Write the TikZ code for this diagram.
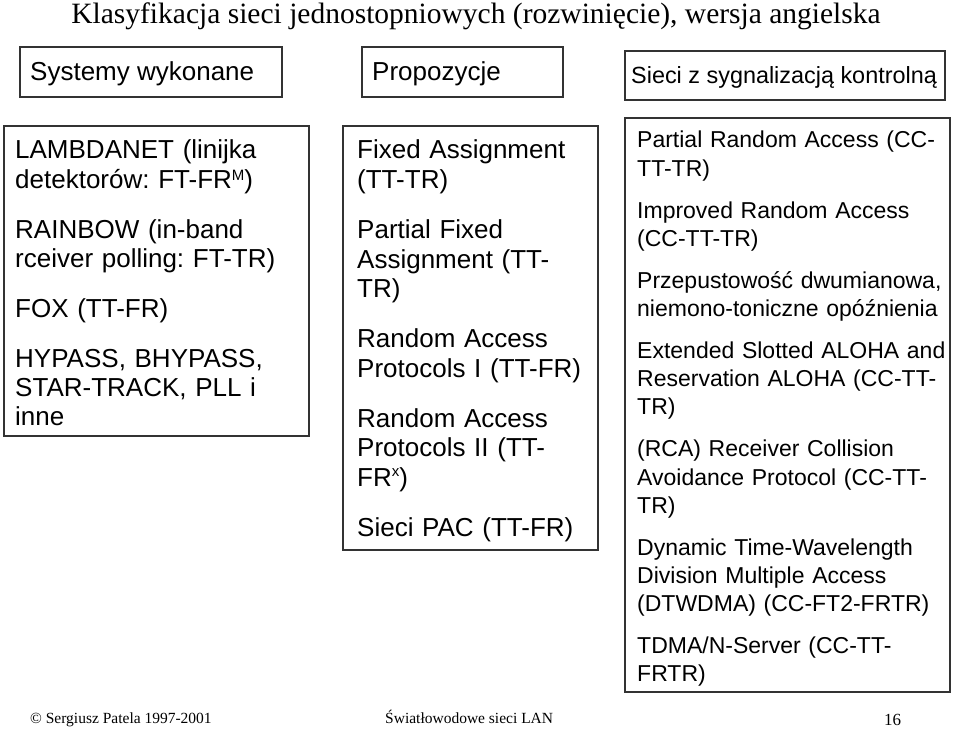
\documentclass[tikz,border=0pt]{standalone}
\usepackage{fontspec}
\setmainfont{Liberation Serif}
\setsansfont{Liberation Sans}
\newcommand{\smallsup}[2]{\raisebox{#1}{\fontsize{15}{15}\selectfont #2}}
\begin{document}
\begin{tikzpicture}[x=1pt,y=-1pt,
  box/.style={draw=black!80, line width=1.2pt},
  body/.style={anchor=base west, inner sep=0pt, text width=#1, align=left},
  head/.style={anchor=base west, inner sep=0pt, font=\sffamily\fontsize{26}{30}\selectfont},
  foot/.style={anchor=base west, inner sep=0pt, font=\fontsize{15.5}{18}\selectfont}]
\fill[white] (0,0) rectangle (960,730);
\useasboundingbox (0,0) rectangle (960,730);
% title
\node[anchor=base, inner sep=0pt, font=\fontsize{29.5}{33}\selectfont] (title) at (476,24)
  {Klasyfikacja sieci jednostopniowych (rozwinięcie), wersja angielska};
% heading boxes
\draw[box] (20,47) rectangle (282,97);
\node[head] (h1) at (30,81) {Systemy wykonane};
\draw[box] (362,47) rectangle (563,97);
\node[head] (h2) at (372,81) {Propozycje};
\draw[box] (625,51) rectangle (945,100);
\node[head, font=\sffamily\fontsize{23.4}{28}\selectfont] (h3) at (631,84) {Sieci z sygnalizacją kontrolną};
% left box
\draw[box] (4,126) rectangle (309,436);
\node[body=300pt, font=\sffamily\fontsize{26}{29}\selectfont] (t1) at (15,159) {\frenchspacing\setlength{\parskip}{21pt}%
LAMBDANET (linijka\\ detektorów: FT-FR\smallsup{7.5pt}{M})\par
RAINBOW (in-band\\ rceiver polling: FT-TR)\par
FOX (TT-FR)\par
HYPASS, BHYPASS,\\ STAR-TRACK, PLL i\\ inne};
% middle box
\draw[box] (343,126) rectangle (598,550);
\node[body=250pt, font=\sffamily\fontsize{26}{29.5}\selectfont] (t2) at (357,159) {\frenchspacing\setlength{\parskip}{20.5pt}%
Fixed Assignment\\ (TT-TR)\par
Partial Fixed\\ Assignment (TT-\\ TR)\par
Random Access\\ Protocols I (TT-FR)\par
Random Access\\ Protocols II (TT-\\ FR\smallsup{10pt}{x})\par
Sieci PAC (TT-FR)};
% right box
\draw[box] (625,118) rectangle (950,692);
\node[body=320pt, font=\sffamily\fontsize{23}{28.3}\selectfont] (t3) at (637,148) {\frenchspacing\setlength{\parskip}{13.5pt}%
Partial Random Access (CC-\\ TT-TR)\par
Improved Random Access\\ (CC-TT-TR)\par
Przepustowość dwumianowa,\\ niemono-toniczne opóźnienia\par
Extended Slotted ALOHA and\\ Reservation ALOHA (CC-TT-\\ TR)\par
(RCA) Receiver Collision\\ Avoidance Protocol (CC-TT-\\ TR)\par
Dynamic Time-Wavelength\\ Division Multiple Access\\ (DTWDMA) (CC-FT2-FRTR)\par
TDMA/N-Server (CC-TT-\\ FRTR)};
% footer
\node[foot] (f1) at (30,723) {© Sergiusz Patela 1997-2001};
\node[foot] (f2) at (385,723) {Światłowodowe sieci LAN};
\node[foot, font=\fontsize{17}{19}\selectfont] (f3) at (884,725) {16};
\end{tikzpicture}
\end{document}
